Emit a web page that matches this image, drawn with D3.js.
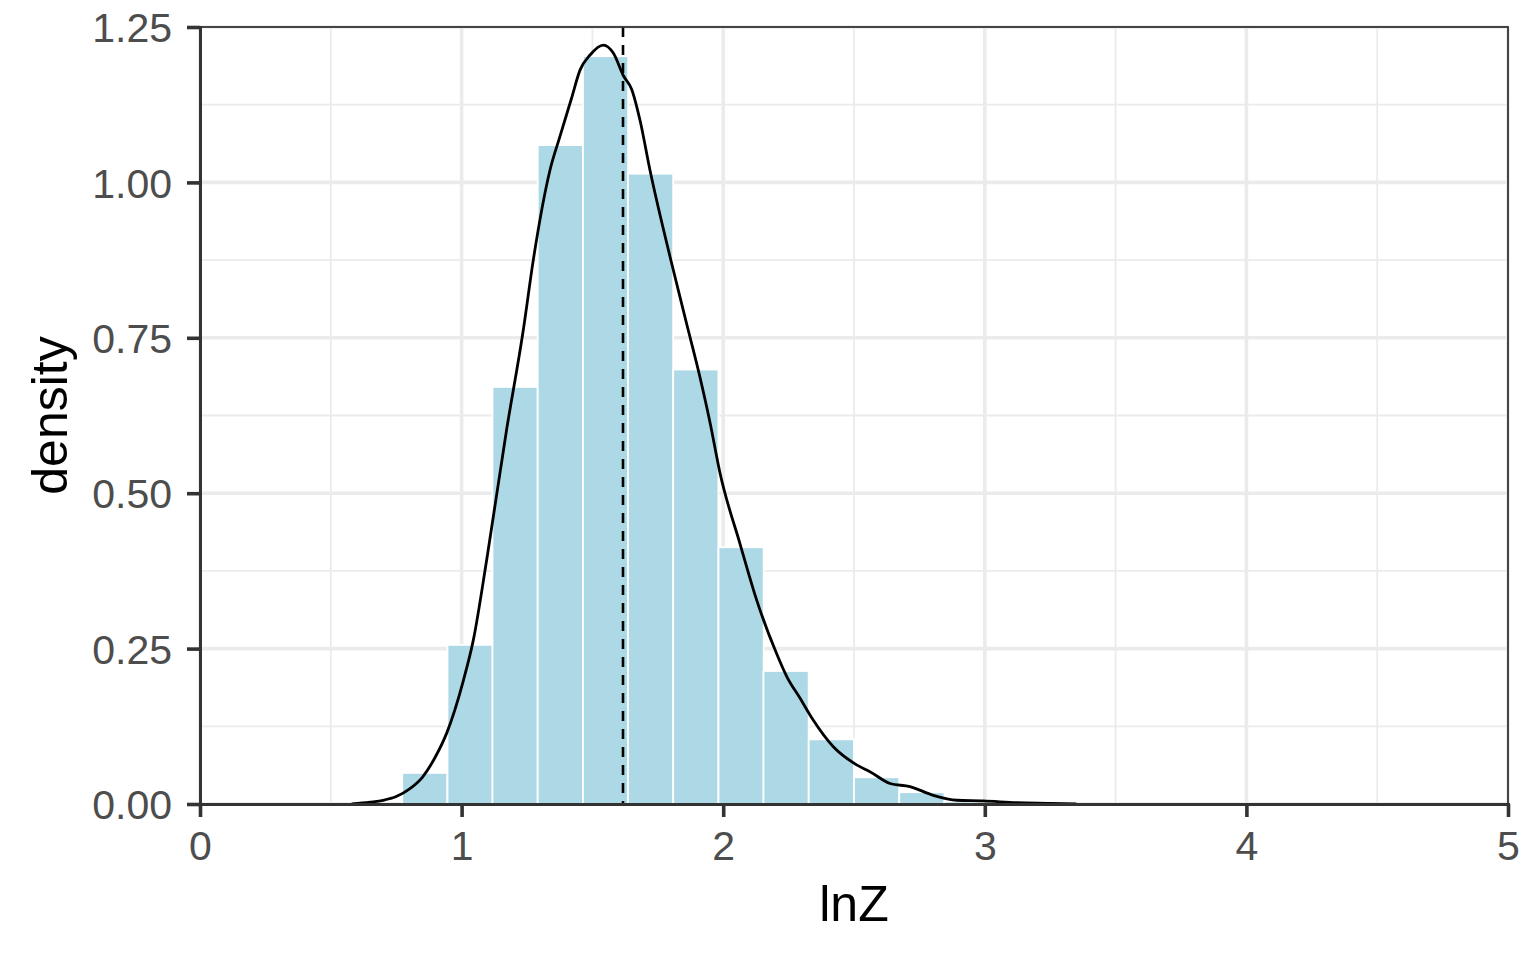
<!DOCTYPE html>
<html>
<head>
<meta charset="utf-8">
<script src="https://cdn.jsdelivr.net/npm/d3@7"></script>
<style>
  body { margin: 0; background: #fff; }
  text { font-family: "Liberation Sans", Arial, sans-serif; }
</style>
</head>
<body>
<svg id="chart" width="1536" height="960"></svg>
<script>
// histogram bins (lnZ), density heights
var binStart = [0.773, 0.946, 1.118, 1.291, 1.464, 1.636, 1.809, 1.982, 2.154, 2.327, 2.500, 2.673, 2.845, 3.018];
var binWidth = 0.1727;
var binDensity = [0.050, 0.256, 0.671, 1.060, 1.203, 1.014, 0.699, 0.413, 0.214, 0.104, 0.043, 0.019, 0.004, 0.001];

// kernel density curve
var densX = [0.58, 0.65, 0.70, 0.75, 0.80, 0.85, 0.90, 0.943, 1.007, 1.045, 1.096, 1.172, 1.236, 1.274, 1.338, 1.376, 1.42, 1.453, 1.491, 1.542, 1.580, 1.618, 1.65, 1.682, 1.720, 1.797, 1.860, 1.911, 1.950, 1.988, 2.064, 2.128, 2.204, 2.243, 2.294, 2.344, 2.421, 2.510, 2.561, 2.638, 2.714, 2.803, 2.893, 2.994, 3.122, 3.25, 3.35];
var densY = [0.000, 0.003, 0.006, 0.012, 0.024, 0.043, 0.076, 0.114, 0.199, 0.264, 0.393, 0.602, 0.763, 0.875, 1.020, 1.074, 1.135, 1.181, 1.205, 1.221, 1.208, 1.172, 1.150, 1.100, 1.020, 0.880, 0.773, 0.687, 0.613, 0.532, 0.419, 0.328, 0.242, 0.205, 0.170, 0.135, 0.092, 0.063, 0.052, 0.033, 0.028, 0.014, 0.006, 0.005, 0.002, 0.001, 0.000];

var meanLnZ = 1.617;

var xTicks = [0, 1, 2, 3, 4, 5];
var xMinor = [0.5, 1.5, 2.5, 3.5, 4.5];
var yTicks = [0, 0.25, 0.5, 0.75, 1.0, 1.25];
var yMinor = [0.125, 0.375, 0.625, 0.875, 1.125];

var pLeft = 200, pRight = 1508, pTop = 27, pBottom = 804;
var svg = d3.select("#chart");

var x = d3.scaleLinear().domain([0, 5]).range([pLeft, pRight]);
var y = d3.scaleLinear().domain([0, 1.25]).range([pBottom, pTop]);

// grid
var grid = svg.append("g");
grid.selectAll(".vmin").data(xMinor).enter().append("line")
  .attr("x1", d => x(d)).attr("x2", d => x(d)).attr("y1", pTop).attr("y2", pBottom)
  .attr("stroke", "#ebebeb").attr("stroke-width", 1.8);
grid.selectAll(".hmin").data(yMinor).enter().append("line")
  .attr("y1", d => y(d)).attr("y2", d => y(d)).attr("x1", pLeft).attr("x2", pRight)
  .attr("stroke", "#ebebeb").attr("stroke-width", 1.8);
grid.selectAll(".vmaj").data(xTicks).enter().append("line")
  .attr("x1", d => x(d)).attr("x2", d => x(d)).attr("y1", pTop).attr("y2", pBottom)
  .attr("stroke", "#ebebeb").attr("stroke-width", 3.6);
grid.selectAll(".hmaj").data(yTicks).enter().append("line")
  .attr("y1", d => y(d)).attr("y2", d => y(d)).attr("x1", pLeft).attr("x2", pRight)
  .attr("stroke", "#ebebeb").attr("stroke-width", 3.6);

// histogram
svg.append("g").selectAll("rect").data(binStart).enter().append("rect")
  .attr("x", d => x(d))
  .attr("width", x(binWidth) - x(0))
  .attr("y", (d, i) => y(binDensity[i]))
  .attr("height", (d, i) => y(0) - y(binDensity[i]))
  .attr("fill", "#add8e6")
  .attr("stroke", "#fff")
  .attr("stroke-width", 1.8);

// density curve
var line = d3.line().x(d => x(d[0])).y(d => y(d[1])).curve(d3.curveMonotoneX);
svg.append("path")
  .datum(densX.map((v, i) => [v, densY[i]]))
  .attr("d", line)
  .attr("fill", "none")
  .attr("stroke", "#000")
  .attr("stroke-width", 2.8);

// mean line
svg.append("line")
  .attr("x1", x(meanLnZ)).attr("x2", x(meanLnZ))
  .attr("y1", pTop).attr("y2", pBottom)
  .attr("stroke", "#000").attr("stroke-width", 2.6)
  .attr("stroke-dasharray", "10,8");

// panel border
svg.append("rect")
  .attr("x", pLeft).attr("y", pTop).attr("width", pRight - pLeft).attr("height", pBottom - pTop)
  .attr("fill", "none").attr("stroke", "#333").attr("stroke-width", 1.8);

// axes
var xAxis = d3.axisBottom(x).tickValues(xTicks).tickSize(13).tickPadding(6).tickFormat(d3.format("d"));
var yAxis = d3.axisLeft(y).tickValues(yTicks).tickSize(13).tickPadding(15).tickFormat(d3.format(".2f"));

var gx = svg.append("g").attr("transform", "translate(0," + pBottom + ")").call(xAxis);
var gy = svg.append("g").attr("transform", "translate(" + pLeft + ",0)").call(yAxis);

[gx, gy].forEach(function (g) {
  g.select(".domain").attr("stroke", "#333").attr("stroke-width", 3);
  g.selectAll(".tick line").attr("stroke", "#333").attr("stroke-width", 3.6);
  g.selectAll(".tick text").attr("fill", "#4d4d4d").style("font-size", "41px")
    .style("font-family", "'Liberation Sans', Arial, sans-serif");
});
gx.selectAll(".tick text").attr("dy", "0.71em").attr("y", 27);
gy.selectAll(".tick text").attr("dy", "0.36em");

// titles
svg.append("text")
  .attr("x", (pLeft + pRight) / 2).attr("y", 921)
  .attr("text-anchor", "middle")
  .style("font-size", "50px").attr("fill", "#000")
  .text("lnZ");

svg.append("text")
  .attr("transform", "translate(67," + (pTop + pBottom) / 2 + ") rotate(-90)")
  .attr("text-anchor", "middle")
  .style("font-size", "50px").attr("fill", "#000")
  .text("density");
</script>
</body>
</html>
